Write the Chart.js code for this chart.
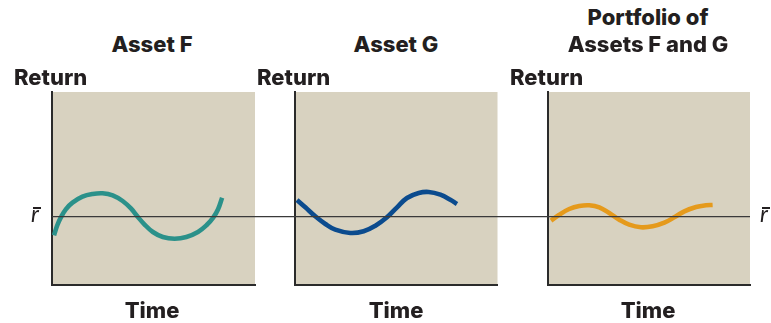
<!DOCTYPE html>
<html>
<head>
<meta charset="utf-8">
<script src="https://cdn.jsdelivr.net/npm/chart.js@4.4.1/dist/chart.umd.min.js"></script>
<style>
  html, body { margin:0; padding:0; background:#fff; }
  #wrap { position:relative; width:771px; height:323px; overflow:hidden; font-family: Inter, Lato, sans-serif; }
  canvas { position:absolute; }
  .t { position:absolute; font-weight:800; font-size:22px; line-height:28px; color:#231f20; white-space:nowrap; z-index:2; }
  .c { width:240px; text-align:center; }
  .rb { position:absolute; font-style:italic; font-size:23px; line-height:26px; color:#231f20; z-index:2; font-family: Lato, sans-serif; }
  .bar { position:absolute; height:1.5px; width:8px; background:#231f20; z-index:2; }
</style>
</head>
<body>
<div id="wrap">
  <canvas id="c1" width="274" height="220" style="left:0px;top:80px"></canvas>
  <canvas id="c2" width="248" height="220" style="left:274px;top:80px"></canvas>
  <canvas id="c3" width="249" height="220" style="left:522px;top:80px"></canvas>
</div>
<script>
// ---- data ----
const panelTitles = [["Asset F"], ["Asset G"], ["Portfolio of", "Assets F and G"]];
const yLabel = "Return";
const xLabel = "Time";
const meanLabel = "r";

const timeF   = [1.0, 2.6, 4.3, 6.8, 10.1, 15.0, 20.0, 24.9, 29.9, 34.8, 39.0, 42.2, 45.5, 49.7, 54.6, 60.4, 66.2, 71.9, 76.1, 79.4, 81.8, 83.8];
const returnF = [-1.86, -0.86, -0.10, 0.74, 1.40, 2.00, 2.27, 2.34, 2.14, 1.57, 0.80, 0.0, -0.76, -1.53, -2.03, -2.20, -2.03, -1.53, -0.86, -0.10, 0.74, 1.90];

const timeG   = [1.0, 5.1, 10.0, 15.0, 19.9, 27.3, 33.9, 39.7, 45.4, 50.4, 55.3, 61.1, 66.0, 71.8, 76.7, 80.0];
const returnG = [1.67, 0.94, 0.04, -0.73, -1.30, -1.63, -1.46, -0.90, -0.06, 0.94, 1.87, 2.37, 2.47, 2.20, 1.70, 1.27];

const timeP   = [1.5, 5.6, 10.5, 15.5, 20.4, 25.4, 30.3, 35.3, 40.2, 46.0, 51.8, 57.6, 62.5, 67.5, 73.3, 78.2, 81.5];
const returnP = [-0.40, 0.20, 0.77, 1.07, 1.14, 0.94, 0.37, -0.30, -0.80, -1.06, -0.96, -0.60, -0.06, 0.54, 0.97, 1.14, 1.17];

const timeRange = [0, 100];
const returnRange = [-6.83, 12.47];
const meanReturn = 0;

// ---- drawing ----
const wrap = document.getElementById('wrap');
function addText(cls, txt, css) {
  const d = document.createElement('div');
  d.className = cls; d.textContent = txt;
  Object.assign(d.style, css);
  wrap.appendChild(d);
}
const centers = [152, 396, 648];
const returnX = [14, 257, 510];
panelTitles.forEach((lines, i) => {
  const n = lines.length;
  lines.forEach((ln, j) => {
    addText('t c', ln, { left: (centers[i] - 120) + 'px', top: (30 - (n - 1 - j) * 27) + 'px' });
  });
  addText('t', yLabel, { left: returnX[i] + 'px', top: '63px' });
  addText('t c', xLabel, { left: (centers[i] - 120) + 'px', top: '296px' });
});
[31, 760].forEach(x => {
  addText('rb', meanLabel, { left: x + 'px', top: '200px' });
  const b = document.createElement('div'); b.className = 'bar';
  b.style.left = (x + 2) + 'px'; b.style.top = '207px';
  wrap.appendChild(b);
});

const panelPlugin = {
  id: 'panel',
  beforeDraw(chart) {
    const { ctx, chartArea: a } = chart;
    ctx.save();
    ctx.fillStyle = '#d8d2c0';
    ctx.fillRect(a.left, a.top, a.right - a.left, a.bottom - a.top);
    ctx.restore();
  },
  afterDatasetsDraw(chart, args, opts) {
    const { ctx, chartArea: a } = chart;
    const y = chart.scales.y.getPixelForValue(meanReturn);
    const x0 = opts.fromArea ? a.left : 0;
    const x1 = opts.toArea ? a.right : chart.width;
    ctx.save();
    ctx.strokeStyle = '#3a3a3a';
    ctx.lineWidth = 1.3;
    ctx.beginPath(); ctx.moveTo(x0, y); ctx.lineTo(x1, y); ctx.stroke();
    ctx.restore();
  }
};

function makeChart(id, xs, ys, color, padding, fromArea, toArea) {
  const axisCommon = {
    type: 'linear',
    grid: { display: false, drawTicks: false },
    ticks: { display: false },
    border: { display: true, color: '#2b2b2b', width: 2 }
  };
  new Chart(document.getElementById(id), {
    type: 'line',
    data: {
      datasets: [{
        data: xs.map((x, i) => ({ x: x, y: ys[i] })),
        borderColor: color,
        borderWidth: 4.6,
        pointRadius: 0,
        fill: false,
        tension: 0.4,
        borderCapStyle: 'butt',
        borderJoinStyle: 'round'
      }]
    },
    options: {
      responsive: false,
      animation: false,
      events: [],
      layout: { padding: padding },
      plugins: { legend: { display: false }, tooltip: { enabled: false }, panel: { fromArea, toArea } },
      scales: {
        x: Object.assign({}, axisCommon, { min: timeRange[0], max: timeRange[1] }),
        y: Object.assign({}, axisCommon, { min: returnRange[0], max: returnRange[1] })
      }
    },
    plugins: [panelPlugin]
  });
}

makeChart('c1', timeF, returnF, '#2b918a', { left: 52, right: 19, top: 12, bottom: 15 }, true, false);
makeChart('c2', timeG, returnG, '#0b4b8e', { left: 21, right: 24.5, top: 12, bottom: 15 }, false, false);
makeChart('c3', timeP, returnP, '#e59a1c', { left: 26, right: 21, top: 12, bottom: 15 }, false, true);
</script>
</body>
</html>
